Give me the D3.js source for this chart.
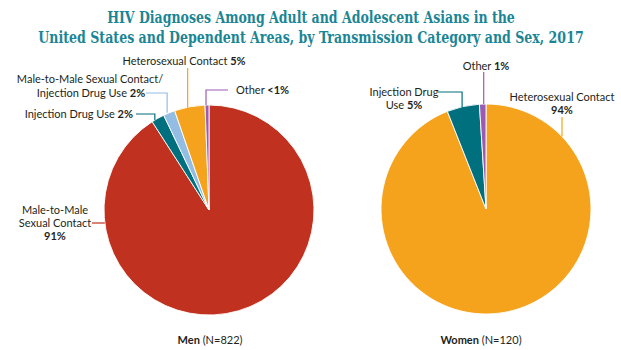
<!DOCTYPE html>
<html>
<head>
<meta charset="utf-8">
<script src="https://cdn.jsdelivr.net/npm/d3@7/dist/d3.min.js"></script>
<style>
  html, body { margin: 0; padding: 0; background: #ffffff; }
  svg { display: block; }
</style>
</head>
<body>
<svg id="chart" width="621" height="350"></svg>
<script>
// ---- Data ----
const titleLines = [
  "HIV Diagnoses Among Adult and Adolescent Asians in the",
  "United States and Dependent Areas, by Transmission Category and Sex, 2017"
];
const menCategories = ["Male-to-Male Sexual Contact", "Injection Drug Use", "Male-to-Male Sexual Contact/Injection Drug Use", "Heterosexual Contact", "Other"];
const menValues = [90.9, 2.0, 1.8, 4.7, 0.6];
const menPctLabels = ["91%", "2%", "2%", "5%", "<1%"];
const womenCategories = ["Heterosexual Contact", "Injection Drug Use", "Other"];
const womenValues = [94, 5, 1];
const womenPctLabels = ["94%", "5%", "1%"];
const groupNames = ["Men", "Women"];
const groupN = ["(N=822)", "(N=120)"];

const colorMap = {
  "Male-to-Male Sexual Contact": "#c0311f",
  "Injection Drug Use": "#006f7e",
  "Male-to-Male Sexual Contact/Injection Drug Use": "#93bde2",
  "Heterosexual Contact": "#f5a31c",
  "Other": "#9b5bb3"
};

const svg = d3.select("#chart");
const textColor = "#231f20";
const fontSans = "Lato, 'Open Sans', sans-serif";

// Title (horizontally condensed to match reference widths)
const titleWidths = [408, 546];
svg.append("g").selectAll("text").data(titleLines).join("text")
  .attr("x", 0).attr("y", 0)
  .attr("text-anchor", "middle")
  .attr("font-family", "'DejaVu Serif Condensed', 'DejaVu Serif', serif")
  .attr("font-weight", "bold")
  .attr("font-size", 17.5)
  .attr("fill", "#1b8595")
  .text(d => d)
  .each(function (d, i) {
    const w = this.getComputedTextLength();
    const s = titleWidths[i] / w;
    d3.select(this).attr("transform", `translate(311,${23 + i * 20}) scale(${s},1)`);
  });

const pie = d3.pie().sort(null).value(d => d.value);
const R = 105;
const arc = d3.arc().innerRadius(0).outerRadius(R);

function drawPie(cx, cy, cats, vals) {
  const data = cats.map((c, i) => ({ cat: c, value: vals[i] }));
  const arcs = pie(data);
  const g = svg.append("g").attr("transform", `translate(${cx},${cy})`);
  g.selectAll("path").data(arcs).join("path")
    .attr("d", arc)
    .attr("fill", d => colorMap[d.data.cat])
    .attr("stroke", "#ffffff")
    .attr("stroke-width", 0.9);
  return arcs.map(a => {
    const m = (a.startAngle + a.endAngle) / 2;
    return { x: cx + R * Math.sin(m), y: cy - R * Math.cos(m), cat: a.data.cat };
  });
}

const menC = { x: 209, y: 210 };
const womenC = { x: 486, y: 209 };
const menAnchors = drawPie(menC.x, menC.y, menCategories, menValues);
const womenAnchors = drawPie(womenC.x, womenC.y, womenCategories, womenValues);

function line(points, color) {
  svg.append("path")
    .attr("d", d3.line()(points))
    .attr("fill", "none")
    .attr("stroke", color)
    .attr("stroke-width", 1.2);
}

function label(x, y, parts, anchor) {
  const t = svg.append("text")
    .attr("x", x).attr("y", y)
    .attr("text-anchor", anchor || "start")
    .attr("font-family", fontSans)
    .attr("font-size", 11)
    .attr("fill", textColor);
  parts.forEach(p => {
    t.append("tspan").attr("font-weight", p.bold ? "bold" : "normal").text(p.t);
  });
  return t;
}

// ---- Men labels ----
{
  const c = menCategories[0];
  const yL = 223;
  const xEdge = menC.x - Math.sqrt(R * R - (yL - menC.y) ** 2);
  line([[92, yL], [xEdge, yL]], colorMap[c]);
  label(55, 214, [{ t: "Male-to-Male" }], "middle");
  label(55, 227, [{ t: "Sexual Contact" }], "middle");
  label(55, 240, [{ t: menPctLabels[0], bold: true }], "middle");
}
{
  const a = menAnchors[1];
  line([[136, 114], [a.x - 3, 114], [a.x - 3, a.y + 2]], colorMap[a.cat]);
  label(133, 118, [{ t: "Injection Drug Use " }, { t: menPctLabels[1], bold: true }], "end");
}
{
  const a = menAnchors[2];
  line([[146, 93], [a.x - 2, 93], [a.x - 2, a.y]], colorMap[a.cat]);
  label(90, 83, [{ t: "Male-to-Male Sexual Contact/" }], "middle");
  label(91, 97, [{ t: "Injection Drug Use " }, { t: menPctLabels[2], bold: true }], "middle");
}
{
  const a = menAnchors[3];
  line([[a.x - 2, 68], [a.x - 2, a.y + 1]], colorMap[a.cat]);
  label(184, 65, [{ t: "Heterosexual Contact " }, { t: menPctLabels[3], bold: true }], "middle");
}
{
  const a = menAnchors[4];
  line([[228, 90], [a.x - 1, 90], [a.x - 1, a.y]], colorMap[a.cat]);
  label(236, 94, [{ t: "Other " }, { t: menPctLabels[4], bold: true }]);
}

// ---- Women labels ----
{
  const c = womenCategories[0];
  const xL = 562;
  const yEdge = womenC.y - Math.sqrt(R * R - (xL - womenC.x) ** 2);
  line([[xL, 117], [xL, yEdge]], colorMap[c]);
  label(xL, 101, [{ t: "Heterosexual Contact" }], "middle");
  label(xL, 114, [{ t: womenPctLabels[0], bold: true }], "middle");
}
{
  const a = womenAnchors[1];
  line([[438, 92], [a.x - 1, 92], [a.x - 1, a.y + 1]], colorMap[a.cat]);
  label(404, 96, [{ t: "Injection Drug" }], "middle");
  label(404, 109, [{ t: "Use " }, { t: womenPctLabels[1], bold: true }], "middle");
}
{
  const a = womenAnchors[2];
  line([[a.x + 1, 72], [a.x + 1, a.y]], colorMap[a.cat]);
  label(486, 70, [{ t: "Other " }, { t: womenPctLabels[2], bold: true }], "middle");
}

// ---- Group labels ----
[[210, 0], [481, 1]].forEach(([x, i]) => {
  label(x, 344, [{ t: groupNames[i], bold: true }, { t: " " + groupN[i] }], "middle");
});
</script>
</body>
</html>
